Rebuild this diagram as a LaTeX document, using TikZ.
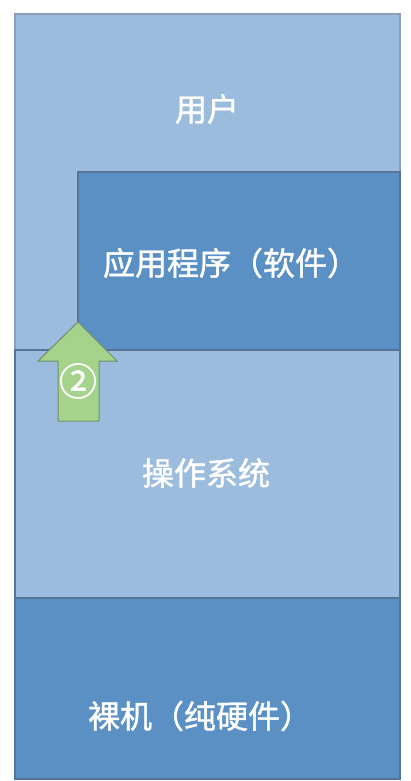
\documentclass[tikz,border=0pt]{standalone}
\usepackage{fontspec}
\newfontfamily\cjk[FakeBold=1.2]{Noto Sans CJK SC}

\definecolor{lightlayer}{HTML}{9CBCDE}
\definecolor{darklayer}{HTML}{5B90C5}
\definecolor{edgeline}{HTML}{56749A}
\definecolor{arrowgreen}{HTML}{A6D38C}
\definecolor{arrowedge}{HTML}{6E8F6A}

\begin{document}
\begin{tikzpicture}[x=1pt,y=-1pt,
    layertext/.style={text=white, font=\cjk\fontsize{32}{38}\selectfont, inner sep=0pt},
    steptext/.style={text=white, font=\cjk\fontsize{38}{42}\selectfont, inner sep=0pt}]
    \useasboundingbox (0,0) rectangle (411,781);

    % Define layer extents
    \def\xleft{15}
    \def\xright{400}
    \def\xapp{78}
    \def\ytop{14}
    \def\yapp{172}
    \def\yos{350}
    \def\yhw{598}
    \def\ybottom{779}

    \fill[white] (0,0) rectangle (411,781);

    % --- User layer ---
    \filldraw[fill=lightlayer, draw=edgeline!70, line width=1.2pt] (\xleft,\ytop) rectangle (\xright,\yos);

    % --- Operating system layer ---
    \filldraw[fill=lightlayer, draw=edgeline, line width=1.2pt] (\xleft,\yos) rectangle (\xright,\yhw);

    % --- Application layer ---
    \filldraw[fill=darklayer, draw=edgeline, line width=1.2pt] (\xapp,\yapp) rectangle (\xright,\yos);

    % --- Hardware layer ---
    \filldraw[fill=darklayer, draw=edgeline, line width=1.2pt] (\xleft,\yhw) rectangle (\xright,\ybottom);

    % Layer labels
    \node[layertext] (user) at (207,109) {用户};
    \node[layertext] (app) at (231,263) {应用程序（软件）};
    \node[layertext] (os) at (206,473) {操作系统};
    \node[layertext] (hw) at (200,716) {裸机（纯硬件）};

    % Upward arrow
    \filldraw[fill=arrowgreen, draw=arrowedge, line width=1pt] (\xapp,322) -- (117,361) -- (99,361) -- (99,421)
        -- (58,421) -- (58,361) -- (38,361) -- cycle;
    \node[steptext] (step) at (78,381) {②};

\end{tikzpicture}
\end{document}
